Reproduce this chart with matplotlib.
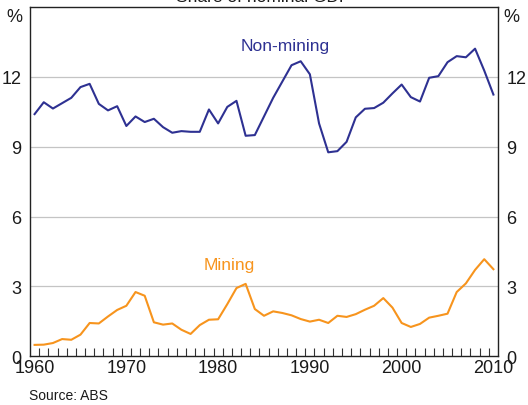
import numpy as np
import matplotlib
matplotlib.use('Agg')
import matplotlib.pyplot as plt

plt.rcParams['font.family'] = ['Liberation Sans', 'DejaVu Sans']

BLUE   = '#2E3192'
ORANGE = '#F7941D'
GRID   = '#C4C4C4'
TEXT   = '#1A1A1A'

years = list(range(1960, 2011))

non_mining = [10.40, 10.91, 10.64, 10.87, 11.10, 11.56, 11.70, 10.84, 10.56, 10.74,
              9.89, 10.30, 10.06, 10.20, 9.84, 9.60, 9.67, 9.64, 9.64, 10.60,
              10.00, 10.71, 10.97, 9.47, 9.50, 10.30, 11.10, 11.80, 12.50, 12.67,
              12.11, 10.00, 8.76, 8.81, 9.21, 10.26, 10.63, 10.66, 10.89, 11.29,
              11.67, 11.13, 10.94, 11.96, 12.03, 12.63, 12.89, 12.84, 13.21, 12.27,
              11.24]

mining = [0.49, 0.50, 0.57, 0.74, 0.71, 0.93, 1.43, 1.41, 1.71, 1.99,
          2.17, 2.76, 2.60, 1.46, 1.36, 1.41, 1.14, 0.96, 1.34, 1.57,
          1.59, 2.24, 2.93, 3.11, 2.03, 1.74, 1.93, 1.86, 1.76, 1.60,
          1.49, 1.57, 1.43, 1.74, 1.69, 1.81, 2.00, 2.17, 2.50, 2.09,
          1.43, 1.26, 1.39, 1.66, 1.74, 1.83, 2.76, 3.13, 3.71, 4.17,
          3.74]

y_ticks = [0, 3, 6, 9, 12]
x_labels = [1960, 1970, 1980, 1990, 2000, 2010]

fig = plt.figure(figsize=(5.28, 4.06), dpi=100)
fig.patch.set_facecolor('white')
ax = fig.add_axes([30/528, 1 - 357.3/406, 468/528, 349.3/406])

ax.set_xlim(1959.5, 2010.5)
ax.set_ylim(0, 15)

for v in y_ticks[1:]:
    ax.axhline(v, color=GRID, linewidth=0.9, zorder=1)

ax.plot(years, non_mining, color=BLUE, linewidth=1.5, zorder=3)
ax.plot(years, mining, color=ORANGE, linewidth=1.5, zorder=3)

for sp in ax.spines.values():
    sp.set_linewidth(1.0)
    sp.set_color('#222222')

# year ticks sit between the years, labels under the year
ax.set_xticks(x_labels)
ax.set_xticklabels([str(y) for y in x_labels], fontsize=13, color=TEXT)
ax.tick_params(axis='x', which='major', length=0, pad=2)
ax.set_xticks(np.arange(1960.5, 2010, 1.0), minor=True)
ax.tick_params(axis='x', which='minor', direction='in', length=6, width=0.8, color='#333333')

ax.set_yticks(y_ticks)
ax.set_yticklabels([str(v) for v in y_ticks], fontsize=13, color=TEXT)
ax.tick_params(axis='y', which='major', length=0, pad=6,
               left=True, right=True, labelleft=True, labelright=True)

ax.text(-0.016, 0.972, '%', transform=ax.transAxes, ha='right', va='center',
        fontsize=13, color=TEXT)
ax.text(1.012, 0.972, '%', transform=ax.transAxes, ha='left', va='center',
        fontsize=13, color=TEXT)

ax.text(1987.3, 13.35, 'Non-mining', ha='center', va='center', fontsize=12.5, color=BLUE)
ax.text(1981.2, 3.93, 'Mining', ha='center', va='center', fontsize=12.5, color=ORANGE)

# title sits mostly above the frame, as in the source image
fig.text(263.5/528, 1 - 2/406, 'Share of nominal GDP', ha='center', va='baseline',
         fontsize=12.5, color=TEXT)
fig.text(29/528, 1 - 396/406, 'Source: ABS', ha='left', va='center',
         fontsize=10, color=TEXT)

fig.savefig('out.png', dpi=100)
